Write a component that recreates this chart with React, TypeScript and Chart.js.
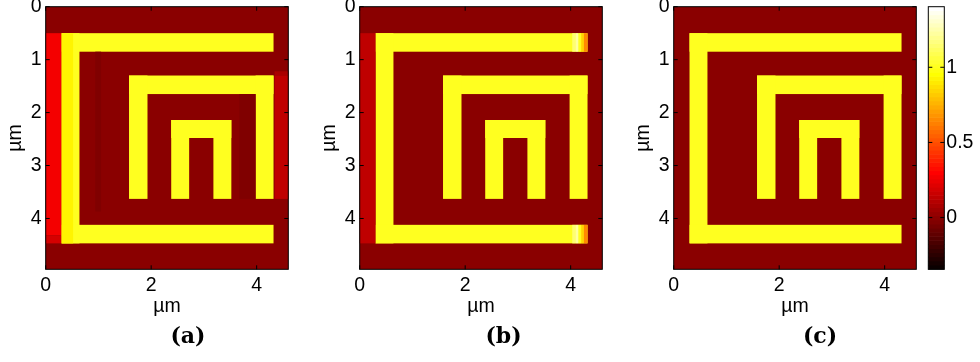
import React, { useEffect, useRef } from "react";
import { Chart, registerables } from "chart.js";

Chart.register(...registerables);

type Rect = [number, number, number, number, number]; // x0, x1, y0, y1 (µm), value

// ---- axes / ranges ----
const X_MIN = 0;
const X_MAX = 4.6;
const Y_MIN = 0;
const Y_MAX = 4.96;
const X_TICKS = [0, 2, 4];
const Y_TICKS = [0, 1, 2, 3, 4];
const C_MIN = -0.344;
const C_MAX = 1.403;
const CBAR_TICKS = [0, 0.5, 1];
const AXIS_TITLE = "µm";
const PANEL_LABELS = ["(a)", "(b)", "(c)"];

// ---- field data ----
const BACKGROUND: Rect[] = [[0, 4.6, 0, 4.96, 0]];

const SPIRAL: Rect[] = [
  [0.3, 4.32, 0.5, 0.85, 1],
  [0.3, 0.64, 0.5, 4.47, 1],
  [0.3, 4.32, 4.12, 4.47, 1],
  [1.58, 4.32, 1.3, 1.65, 1],
  [1.58, 1.93, 1.3, 3.63, 1],
  [3.98, 4.32, 1.3, 3.63, 1],
  [2.38, 3.52, 2.14, 2.48, 1],
  [2.38, 2.72, 2.14, 3.63, 1],
  [3.18, 3.52, 2.14, 3.63, 1],
];

const PANEL_A_EXTRA: Rect[] = [
  [0, 0.3, 0.5, 4.32, 0.28],
  [0, 0.3, 4.32, 4.47, 0.2],
  [0.3, 0.52, 0.5, 4.47, 0.93],
  [0.94, 1.05, 0.85, 3.87, -0.02],
  [3.67, 3.98, 1.65, 3.63, -0.02],
  [4.34, 4.6, 1.22, 1.3, 0.07],
  [4.34, 4.6, 1.3, 3.63, 0.135],
];

const PANEL_B_EXTRA: Rect[] = [
  [0, 0.3, 0.5, 4.47, 0.135],
  [4.03, 4.09, 0.5, 0.85, 1.15],
  [4.09, 4.15, 0.5, 0.85, 1.22],
  [4.15, 4.2, 0.5, 0.85, 1.0],
  [4.2, 4.25, 0.5, 0.85, 0.85],
  [4.25, 4.32, 0.5, 0.85, 0.65],
  [4.03, 4.09, 4.12, 4.47, 1.15],
  [4.09, 4.15, 4.12, 4.47, 1.22],
  [4.15, 4.2, 4.12, 4.47, 1.0],
  [4.2, 4.25, 4.12, 4.47, 0.85],
  [4.25, 4.32, 4.12, 4.47, 0.65],
];

const PANEL_C_EXTRA: Rect[] = [];

const PANELS: Rect[][] = [
  [...BACKGROUND, ...SPIRAL, ...PANEL_A_EXTRA],
  [...BACKGROUND, ...SPIRAL, ...PANEL_B_EXTRA],
  [...BACKGROUND, ...SPIRAL, ...PANEL_C_EXTRA],
];

// ---- layout ----
const PANEL_CANVAS_LEFT = [0, 313.6, 627.6];
const CAPTION_CENTER = [188, 503.5, 820];
const FONT_FAMILY = '"Liberation Sans", Arial, Helvetica, sans-serif';
const FONT_SIZE = 19.5;

function hot(v: number): string {
  let i = Math.floor(((v - C_MIN) / (C_MAX - C_MIN)) * 64);
  i = Math.max(0, Math.min(63, i));
  const r = Math.min(1, (i + 1) / 24);
  const g = i < 24 ? 0 : Math.min(1, (i - 23) / 24);
  const b = i < 48 ? 0 : (i - 47) / 16;
  return `rgb(${Math.round(r * 255)},${Math.round(g * 255)},${Math.round(b * 255)})`;
}

function makeHeatPlugin(rects: Rect[]) {
  return {
    id: "heatmap",
    beforeDatasetsDraw(chart: any) {
      const { ctx, chartArea: a, scales } = chart;
      const xs = scales.x;
      const ys = scales.y;
      ctx.save();
      ctx.beginPath();
      ctx.rect(a.left, a.top, a.right - a.left, a.bottom - a.top);
      ctx.clip();
      ctx.filter = "blur(0.55px)";
      for (const [x0, x1, y0, y1, v] of rects) {
        const p0 = xs.getPixelForValue(x0);
        const p1 = xs.getPixelForValue(x1);
        const q0 = ys.getPixelForValue(y0);
        const q1 = ys.getPixelForValue(y1);
        let l = Math.min(p0, p1);
        let r = Math.max(p0, p1);
        let t = Math.min(q0, q1);
        let b = Math.max(q0, q1);
        if (l <= a.left + 0.5) l -= 4;
        if (r >= a.right - 0.5) r += 4;
        if (t <= a.top + 0.5) t -= 4;
        if (b >= a.bottom - 0.5) b += 4;
        ctx.fillStyle = hot(v);
        ctx.fillRect(l, t, r - l, b - t);
      }
      ctx.restore();
    },
  };
}

const colorbarPlugin = {
  id: "colorbar",
  beforeDatasetsDraw(chart: any) {
    const { ctx, chartArea: a, scales } = chart;
    const ys = scales.y;
    ctx.save();
    for (let i = 0; i < 64; i++) {
      const v0 = C_MIN + ((C_MAX - C_MIN) * i) / 64;
      const v1 = C_MIN + ((C_MAX - C_MIN) * (i + 1)) / 64;
      const q0 = ys.getPixelForValue(v0);
      const q1 = ys.getPixelForValue(v1);
      ctx.fillStyle = hot((v0 + v1) / 2);
      ctx.fillRect(a.left, Math.min(q0, q1) - 0.3, a.right - a.left, Math.abs(q1 - q0) + 0.6);
    }
    ctx.restore();
  },
};

const framePlugin = {
  id: "frame",
  afterDraw(chart: any) {
    const { ctx, chartArea: a, scales } = chart;
    const tl = 4;
    ctx.save();
    ctx.strokeStyle = "#000";
    ctx.lineWidth = 1;
    ctx.beginPath();
    const xs = scales.x;
    if (xs && xs.options.display !== false) {
      for (const t of xs.ticks) {
        const px = xs.getPixelForValue(t.value);
        ctx.moveTo(px, a.bottom);
        ctx.lineTo(px, a.bottom - tl);
        ctx.moveTo(px, a.top);
        ctx.lineTo(px, a.top + tl);
      }
    }
    const ys = scales.y;
    for (const t of ys.ticks) {
      const py = ys.getPixelForValue(t.value);
      ctx.moveTo(a.left, py);
      ctx.lineTo(a.left + tl, py);
      ctx.moveTo(a.right, py);
      ctx.lineTo(a.right - tl, py);
    }
    ctx.stroke();
    ctx.strokeRect(a.left, a.top, a.right - a.left, a.bottom - a.top);
    ctx.restore();
  },
};

function zeroPad(scale: any) {
  scale.paddingTop = 0;
  scale.paddingBottom = 0;
  scale.paddingLeft = 0;
  scale.paddingRight = 0;
}

const fmt = (v: any) => String(v);

const W = 300;
const H = 362;
const PLOT_LEFT = 45.7;
const PLOT_RIGHT = 288.3;
const PLOT_TOP = 6.7;
const PLOT_BOTTOM = 269.3;

function HeatPanel({ index }: { index: number }) {
  const ref = useRef<HTMLCanvasElement>(null);
  useEffect(() => {
    const font = { family: FONT_FAMILY, size: FONT_SIZE };
    const chart = new Chart(ref.current as HTMLCanvasElement, {
      type: "scatter",
      data: { datasets: [{ data: [] }] },
      options: {
        responsive: false,
        animation: false,
        devicePixelRatio: 1,
        layout: { padding: { left: 0, top: PLOT_TOP, right: W - PLOT_RIGHT, bottom: 0 } },
        plugins: { legend: { display: false }, tooltip: { enabled: false } },
        scales: {
          x: {
            type: "linear",
            min: X_MIN,
            max: X_MAX,
            grid: { display: false, drawTicks: false },
            border: { display: false },
            afterBuildTicks: (s: any) => {
              s.ticks = X_TICKS.map((value) => ({ value }));
            },
            afterFit: (s: any) => {
              s.height = H - PLOT_BOTTOM;
              zeroPad(s);
            },
            ticks: { color: "#000", font, padding: 4.5, maxRotation: 0, callback: fmt },
            title: { display: true, text: AXIS_TITLE, color: "#000", font, padding: { top: 0, bottom: 44 } },
          },
          y: {
            type: "linear",
            reverse: true,
            min: Y_MIN,
            max: Y_MAX,
            grid: { display: false, drawTicks: false },
            border: { display: false },
            afterBuildTicks: (s: any) => {
              s.ticks = Y_TICKS.map((value) => ({ value }));
            },
            afterFit: (s: any) => {
              s.width = PLOT_LEFT;
              zeroPad(s);
            },
            ticks: { color: "#000", font, padding: 4, callback: fmt },
            title: { display: true, text: AXIS_TITLE, color: "#000", font, padding: { top: 3.5, bottom: 0 } },
          },
        },
      } as any,
      plugins: [makeHeatPlugin(PANELS[index]), framePlugin],
    });
    return () => chart.destroy();
  }, [index]);
  return (
    <canvas
      ref={ref}
      width={W}
      height={H}
      style={{ position: "absolute", left: PANEL_CANVAS_LEFT[index], top: 0, width: W, height: H }}
    />
  );
}

const CB_LEFT = 900;
const CB_W = 80;
const CB_PLOT_LEFT = 928.3 - CB_LEFT;
const CB_PLOT_RIGHT = 944.3 - CB_LEFT;
const CB_AXIS_W = 30;

function ColorBar() {
  const ref = useRef<HTMLCanvasElement>(null);
  useEffect(() => {
    const font = { family: FONT_FAMILY, size: FONT_SIZE };
    const chart = new Chart(ref.current as HTMLCanvasElement, {
      type: "scatter",
      data: { datasets: [{ data: [] }] },
      options: {
        responsive: false,
        animation: false,
        devicePixelRatio: 1,
        layout: {
          padding: {
            left: CB_PLOT_LEFT,
            top: PLOT_TOP,
            right: CB_W - CB_PLOT_RIGHT - CB_AXIS_W,
            bottom: H - PLOT_BOTTOM,
          },
        },
        plugins: { legend: { display: false }, tooltip: { enabled: false } },
        scales: {
          x: { type: "linear", display: false, min: 0, max: 1 },
          y: {
            type: "linear",
            position: "right",
            min: C_MIN,
            max: C_MAX,
            grid: { display: false, drawTicks: false },
            border: { display: false },
            afterBuildTicks: (s: any) => {
              s.ticks = CBAR_TICKS.map((value) => ({ value }));
            },
            afterFit: (s: any) => {
              s.width = CB_AXIS_W;
              zeroPad(s);
            },
            ticks: { color: "#000", font, padding: 2, callback: fmt },
          },
        },
      } as any,
      plugins: [colorbarPlugin, framePlugin],
    });
    return () => chart.destroy();
  }, []);
  return (
    <canvas
      ref={ref}
      width={CB_W}
      height={H}
      style={{ position: "absolute", left: CB_LEFT, top: 0, width: CB_W, height: H }}
    />
  );
}

export default function App() {
  return (
    <div style={{ position: "fixed", left: 0, top: 0, width: 980, height: 362, background: "#fff", overflow: "hidden" }}>
      {[0, 1, 2].map((i) => (
        <HeatPanel key={i} index={i} />
      ))}
      <ColorBar />
      {PANEL_LABELS.map((lab, i) => (
        <div
          key={lab}
          style={{
            position: "absolute",
            left: CAPTION_CENTER[i] - 40,
            width: 80,
            top: 324,
            textAlign: "center",
            fontFamily: '"DejaVu Serif", serif',
            fontWeight: "bold",
            fontSize: 22,
            lineHeight: "22px",
            color: "#000",
          }}
        >
          {lab}
        </div>
      ))}
    </div>
  );
}
